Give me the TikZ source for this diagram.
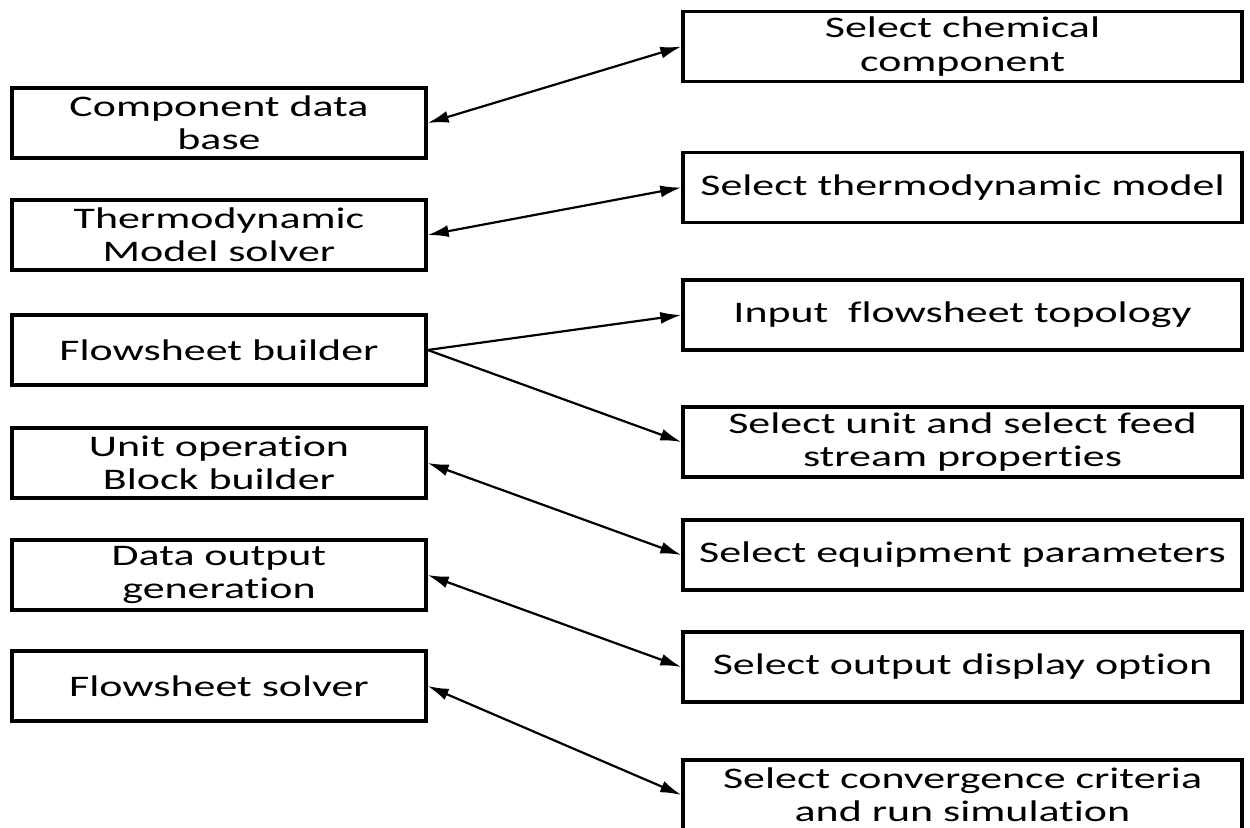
\documentclass[tikz,border=0pt]{standalone}
\usepackage{fontspec}
\setmainfont{Carlito}[FakeStretch=1.47,Ligatures=NoCommon]
\usepackage{tikz}
\usetikzlibrary{arrows.meta}
\tikzset{
  block/.style={draw,line width=1.9pt,minimum height=1.4cm,align=center,inner sep=0pt,font=\fontsize{17}{19}\selectfont},
  leftblock/.style={block,minimum width=8.28cm},
  rightblock/.style={block,minimum width=11.18cm},
  link/.style={line width=1.25pt,-{Latex[length=0.42cm,width=0.24cm]}},
  dlink/.style={line width=1.25pt,{Latex[length=0.42cm,width=0.24cm]}-{Latex[length=0.42cm,width=0.24cm]}}
}

\begin{document}
\begin{tikzpicture}
\useasboundingbox (0,0) rectangle (25,-16.54);
\node[leftblock] (database) at (4.38,-2.46) {Component data\\base};
\node[leftblock] (thermo) at (4.38,-4.70) {Thermodynamic\\Model solver};
\node[leftblock] (builder) at (4.38,-7.00) {Flowsheet builder};
\node[leftblock] (unitop) at (4.38,-9.26) {Unit operation\\Block builder};
\node[leftblock] (output) at (4.38,-11.50) {Data output\\generation};
\node[leftblock] (solver) at (4.38,-13.72) {Flowsheet solver};
\node[rightblock] (chem) at (19.25,-0.93) {Select chemical\\component};
\node[rightblock] (model) at (19.25,-3.75) {Select thermodynamic model};
\node[rightblock] (topo) at (19.25,-6.30) {Input~ flowsheet topology};
\node[rightblock] (feed) at (19.25,-8.84) {Select unit and select feed\\stream properties};
\node[rightblock] (equip) at (19.25,-11.10) {Select equipment parameters};
\node[rightblock] (display) at (19.25,-13.34) {Select output display option};
\node[rightblock] (converge) at (19.25,-15.90) {Select convergence criteria\\and run simulation};
\draw[dlink] (database.east) to (chem.west);
\draw[dlink] (thermo.east) to (model.west);
\draw[link] (builder.east) to (topo.west);
\draw[link] (builder.east) to (feed.west);
\draw[dlink] (unitop.east) to (equip.west);
\draw[dlink] (output.east) to (display.west);
\draw[dlink] (solver.east) to (converge.west);
\end{tikzpicture}
\end{document}
